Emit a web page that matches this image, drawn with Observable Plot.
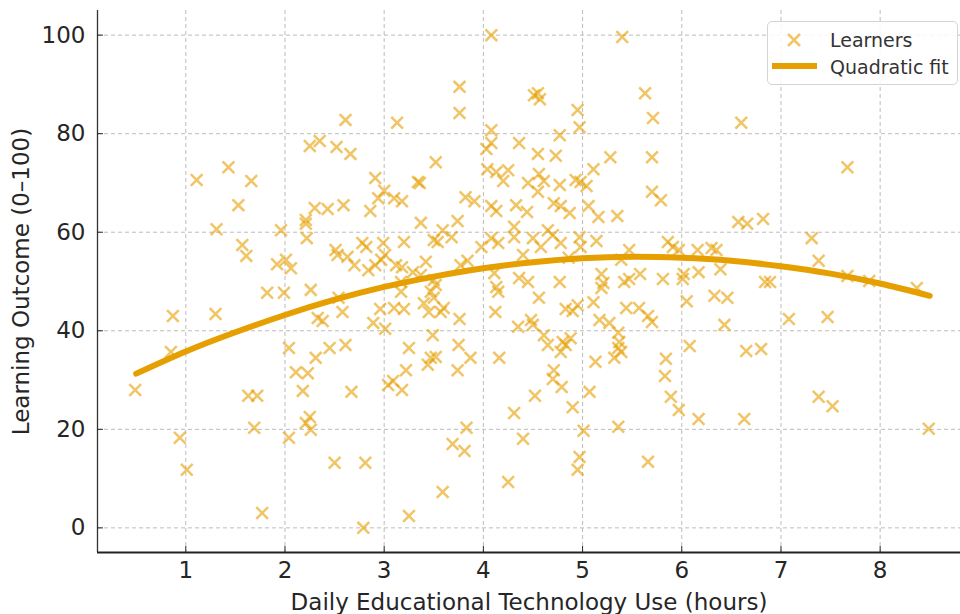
<!DOCTYPE html>
<html><head><meta charset="utf-8">
<script src="https://cdn.jsdelivr.net/npm/d3@7"></script>
<script src="https://cdn.jsdelivr.net/npm/@observablehq/plot@0.6"></script>
<style>
body{margin:0;background:#fff;font-family:"DejaVu Sans",sans-serif;}
#wrap{position:relative;width:960px;height:614px;overflow:hidden}
#legend{position:absolute;left:767px;top:21px;width:191px;height:64px;border:1px solid #d4d4d4;border-radius:5px;background:rgba(255,255,255,0.85);box-sizing:border-box}
#legend text{font-family:"DejaVu Sans",sans-serif;font-size:19px;fill:#333}
</style></head><body><div id="wrap"><div id="legend"><svg width="189" height="62">
<path d="M20,12L32,24M32,12L20,24" stroke="#E69F00" stroke-opacity="0.6" stroke-width="2.5" fill="none"/>
<line x1="4" x2="49" y1="44" y2="44" stroke="#E69F00" stroke-width="6"/>
<text x="62" y="25">Learners</text>
<text x="62" y="52">Quadratic fit</text>
</svg></div></div>
<script>
// Learners: daily ed-tech hours and learning outcome
const hours = [
  0.49,0.85,0.87,0.94,1.01,1.11,1.30,1.31,1.43,1.53,1.57,1.61,1.63,1.72,1.66,1.69,1.77,1.82,1.92,1.99,1.96,2.01,
  2.61,2.25,2.35,2.52,2.66,2.91,3.00,
  2.59,2.30,2.43,2.86,2.94,2.21,2.21,2.22,2.06,2.51,2.53,2.63,2.70,2.78,2.82,2.84,2.91,2.97,2.99,2.26,2.54,2.58,2.96,2.89,3.01,2.33,2.38,2.04,2.31,2.45,2.61,
  2.04,2.18,2.11,2.23,2.21,2.25,2.26,2.50,2.81,2.79,2.67,3.04,
  3.09,3.18,3.22,3.44,3.74,3.83,3.69,3.81,3.59,3.25,4.25,4.31,4.40,4.52,4.71,4.70,4.79,4.90,5.07,5.01,4.97,4.95,5.36,5.66,5.83,5.89,5.97,
  6.17,6.63,7.38,7.52,8.49,
  6.57,6.66,6.82,7.31,7.38,7.67,7.89,8.37,5.91,5.97,6.16,6.30,6.35,6.39,6.02,6.17,6.01,6.84,6.89,6.05,6.33,6.46,6.43,7.08,7.47,6.08,6.65,6.80,
  6.60,7.67,
  4.08,5.40,3.76,3.76,3.13,4.51,4.55,4.57,5.63,5.71,4.95,4.97,4.08,4.08,4.03,4.77,4.36,4.55,4.73,5.28,5.70,3.52,3.34,3.36,4.04,4.13,4.25,4.20,4.45,4.56,4.61,4.77,4.93,4.98,5.11,5.04,5.70,
  3.10,3.18,3.82,3.91,4.08,4.13,4.33,4.44,4.55,4.71,4.78,4.87,5.06,5.16,5.35,5.79,
  3.37,3.74,3.59,3.68,3.50,3.54,3.20,
  3.01,3.12,3.18,3.98,
  4.08,4.15,
  4.31,4.31,4.40,4.50,4.58,4.65,4.70,4.78,4.86,4.97,4.98,5.14,5.47,5.39,5.86,
  3.42,3.77,3.84,3.29,3.37,3.50,3.52,3.17,3.17,3.47,3.50,
  4.11,4.13,4.15,4.36,4.45,4.77,5.19,5.21,5.19,5.42,5.47,5.58,5.81,
  4.56,5.11,3.10,3.20,3.40,3.45,3.57,3.60,3.76,4.12,4.83,4.90,4.95,5.44,5.57,5.66,5.17,5.27,5.70,4.35,4.48,4.50,
  3.49,4.61,4.65,4.80,4.88,5.36,5.37,5.36,5.39,5.84,
  3.25,3.75,3.87,4.16,4.78,4.83,5.13,5.32,3.47,3.52
];
const outcome = [
  28.0,35.7,43.0,18.3,11.8,70.6,43.4,60.6,73.2,65.5,57.4,55.2,26.8,26.8,70.4,20.3,3.0,47.7,53.5,47.7,60.4,54.4,
  82.8,77.5,78.5,77.3,75.9,71.0,68.4,
  65.5,64.9,64.7,64.3,66.9,62.5,61.7,58.8,52.7,56.4,55.4,55.0,53.3,57.8,57.0,52.3,53.3,54.4,57.8,48.3,46.7,43.8,44.4,41.6,40.4,42.6,42.0,36.5,34.5,36.5,37.1,
  18.3,27.8,31.6,31.4,21.3,22.5,19.9,13.2,13.2,0.0,27.6,29.0,
  29.8,28.0,32.0,33.1,32.0,20.3,17.0,15.6,7.3,2.4,9.3,23.3,18.1,26.8,32.0,30.2,28.6,24.5,27.6,19.7,14.4,11.8,20.5,13.4,30.8,26.6,23.9,
  22.1,22.1,26.6,24.7,20.1,
  62.1,61.7,62.7,58.8,54.2,51.1,50.1,48.7,57.0,56.4,56.4,56.8,56.4,52.5,51.5,51.9,50.5,49.9,49.9,46.0,47.1,46.7,41.2,42.4,42.8,36.9,35.9,36.3,
  82.2,73.2,
  100,99.6,89.5,84.2,82.2,87.8,88.2,87.0,88.2,83.2,84.8,81.3,80.7,78.1,76.9,79.7,78.1,75.9,75.5,75.2,75.2,74.2,70.2,70.0,72.8,72.2,72.6,70.4,70.0,71.8,70.4,69.6,70.6,70.2,72.8,69.4,68.2,
  66.9,66.3,67.1,66.3,65.3,64.3,65.5,64.1,68.2,65.9,65.3,63.9,65.3,63.1,63.3,66.5,
  61.9,62.3,60.4,59.0,58.4,58.0,58.0,
  55.4,53.3,52.9,57.0,
  58.8,57.8,
  61.1,59.0,55.4,58.8,57.0,60.4,59.4,57.8,54.8,59.0,57.0,58.2,56.4,54.4,58.0,
  54.0,53.3,54.2,51.9,51.3,50.3,49.3,49.9,47.9,47.9,46.7,
  51.7,48.9,47.9,50.7,49.9,49.9,51.5,49.7,48.7,49.9,50.5,51.5,50.5,
  46.7,45.8,44.6,44.4,45.6,43.8,43.8,44.6,42.4,43.8,44.4,44.0,45.2,44.6,44.6,43.0,42.2,41.6,41.8,40.8,42.2,41.2,
  39.1,39.1,37.1,37.7,38.5,39.6,37.7,36.5,35.7,34.3,
  36.5,37.1,34.5,34.5,35.7,37.1,33.7,34.5,34.5,34.7
];
// Quadratic fit curve
const fitHours   = [0.5,1.0,1.5,2.0,2.5,3.0,3.5,4.0,4.5,5.0,5.5,6.0,6.5,7.0,7.5,8.0,8.5];
const fitOutcome = [31.3,35.8,39.7,43.2,46.3,48.9,51.0,52.7,53.9,54.7,55.0,54.8,54.2,53.1,51.6,49.6,47.1];
const xTicks = [1,2,3,4,5,6,7,8];
const yTicks = [0,20,40,60,80,100];

const learners = hours.map((h, i) => ({h, o: outcome[i]}));
const fit = fitHours.map((h, i) => ({h, o: fitOutcome[i]}));

const gridStyle = {stroke: "#b0b0b0", strokeOpacity: 0.85, strokeDasharray: "4,3", strokeWidth: 1};
const chart = Plot.plot({
  width: 960, height: 614,
  marginLeft: 97, marginRight: 0, marginTop: 10, marginBottom: 62,
  style: {fontFamily: '"DejaVu Sans", sans-serif', fontSize: "23px", color: "#262626", background: "#fff"},
  x: {domain: [0.11, 8.81]},
  y: {domain: [-5, 105]},
  marks: [
    Plot.gridX(xTicks, gridStyle),
    Plot.gridY(yTicks, gridStyle),
    Plot.dot(learners, {x: "h", y: "o", symbol: "times", r: 5.4, stroke: "#E69F00", strokeOpacity: 0.6, strokeWidth: 2.5}),
    Plot.line(fit, {x: "h", y: "o", stroke: "#E69F00", strokeWidth: 6, curve: "natural"}),
    Plot.ruleX([0.11], {stroke: "#333", strokeWidth: 1.3}),
    Plot.ruleY([-5], {stroke: "#222", strokeWidth: 1.8}),
    Plot.axisX({ticks: xTicks, tickSize: -6, tickPadding: 15, fontSize: 23, label: "Daily Educational Technology Use (hours)", labelAnchor: "center", labelOffset: 57, labelArrow: "none"}),
    Plot.axisY({ticks: yTicks, tickSize: -6, tickPadding: 18, fontSize: 23, label: "Learning Outcome (0–100)", labelAnchor: "center", labelOffset: 85, labelArrow: "none"})
  ]
});
document.getElementById("wrap").prepend(chart);
</script></body></html>
